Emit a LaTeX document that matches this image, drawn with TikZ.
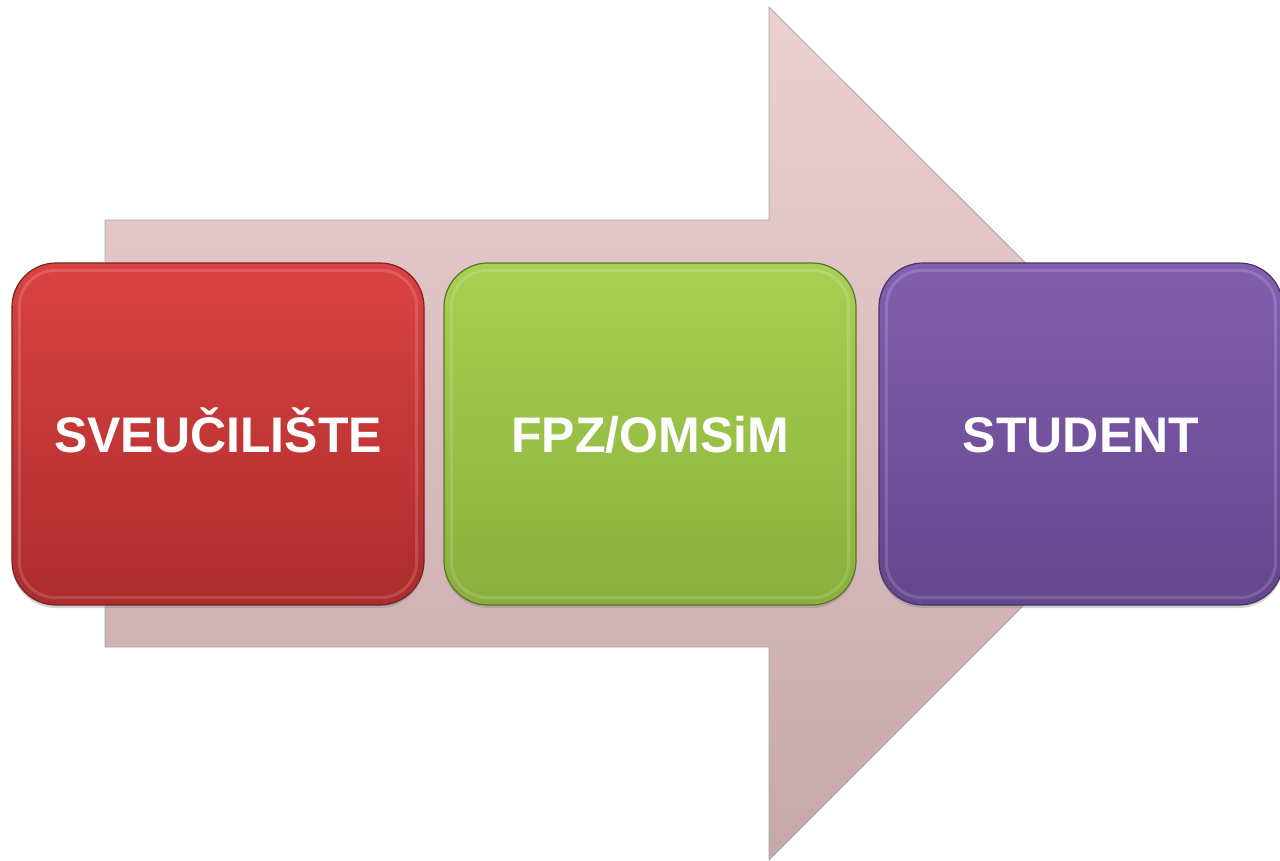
\documentclass[tikz,border=0pt]{standalone}
\usepackage{fontspec}
\setmainfont{Liberation Sans}
\usetikzlibrary{shadows}
\definecolor{redtop}{RGB}{218,66,66}
\definecolor{redbot}{RGB}{172,44,44}
\definecolor{grntop}{RGB}{168,208,82}
\definecolor{grnbot}{RGB}{138,176,60}
\definecolor{purtop}{RGB}{130,94,176}
\definecolor{purbot}{RGB}{100,70,140}
\definecolor{arrtop}{RGB}{236,208,210}
\definecolor{arrbot}{RGB}{198,168,170}
\tikzset{
  stepbox/.style={rounded corners=44pt, draw=#1!55!black, line width=1.2pt,
    minimum width=412pt, minimum height=342pt, inner sep=0pt,
    text height=36pt, text depth=0pt,
    font=\bfseries\fontsize{50}{56}\selectfont, text=white,
    drop shadow={shadow xshift=0pt, shadow yshift=-3pt, opacity=0.35}},
  gloss/.style={rounded corners=36pt, draw=white, opacity=0.15, line width=3pt}
}
\begin{document}
\begin{tikzpicture}[x=1pt,y=-1pt]
\useasboundingbox (0,0) rectangle (1280,860);
% big arrow
\shade[top color=arrtop, bottom color=arrbot, draw=black!35, line width=0.8pt]
  (105,220) -- (769,220) -- (769,7) -- (1196,433) -- (769,860) -- (769,647) -- (105,647) -- cycle;
% boxes
\node[stepbox=redtop, top color=redtop, bottom color=redbot] (sv) at (218,434) {SVEUČILIŠTE};
\node[stepbox=grntop, top color=grntop, bottom color=grnbot] (fpz) at (650,434) {FPZ/OMSiM};
\node[stepbox=purtop, top color=purtop, bottom color=purbot, minimum width=404pt] (st) at (1081,434) {STUDENT};
\foreach \n in {sv,fpz,st}{
  \draw[gloss] ([shift={(8pt,-8pt)}]\n.north west) rectangle ([shift={(-8pt,8pt)}]\n.south east);
}
\end{tikzpicture}
\end{document}
